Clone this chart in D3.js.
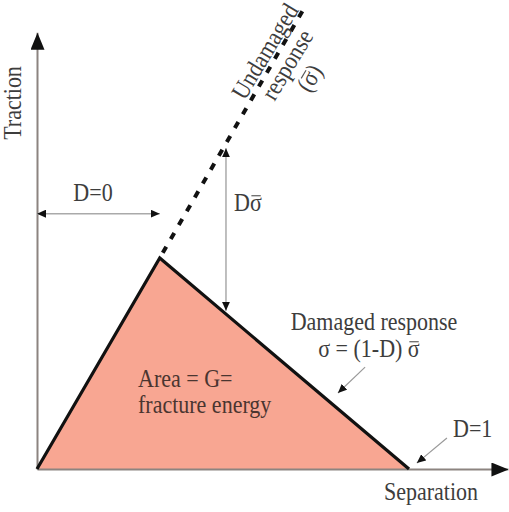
<!DOCTYPE html>
<html>
<head>
<meta charset="utf-8" />
<style>
  body { margin: 0; background: #fff; }
  svg text {
    font-family: "Liberation Serif", "Times New Roman", serif;
    font-size: 22px;
    fill: #3d3d3d;
  }
</style>
</head>
<body>
<svg width="509" height="512"></svg>
<script src="https://d3js.org/d3.v7.min.js"></script>
<script>
  // traction-separation law, normalised (peak traction = 1, final separation = 1)
  var separation = [0, 0.33, 1.0];
  var traction = [0, 1, 0];

  // undamaged (elastic) response carried on past the peak
  var undamagedSep = [0.33, 0.72];
  var undamagedTrac = [1, 2.19];

  // D*sigma gap shown between the two responses
  var gapSep = 0.508;
  var gapTrac = [1.52, 0.75];

  // D=0 span, from the axis to the peak separation
  var d0Sep = [0, 0.33];
  var d0Trac = 1.21;

  // axis extents
  var sepMax = 1.266;
  var tracMax = 2.07;

  // pointer arrows: [fromSep, fromTrac, toSep, toTrac]
  var pointers = [
    [0.882, 0.483, 0.809, 0.36],
    [1.102, 0.147, 1.021, 0.028]
  ];

  var svg = d3.select("svg");

  var x = d3.scaleLinear().domain([0, 1]).range([37, 409]);
  var y = d3.scaleLinear().domain([0, 1]).range([469, 258]);

  var defs = svg.append("defs");
  defs.append("marker")
    .attr("id", "bigArrow")
    .attr("viewBox", "0 0 17 14")
    .attr("refX", 17).attr("refY", 7)
    .attr("markerWidth", 17).attr("markerHeight", 14)
    .attr("markerUnits", "userSpaceOnUse")
    .attr("orient", "auto")
    .append("path").attr("d", "M0,0L17,7L0,14Z").attr("fill", "#111");
  defs.append("marker")
    .attr("id", "smallArrow")
    .attr("viewBox", "0 0 9 8")
    .attr("refX", 9).attr("refY", 4)
    .attr("markerWidth", 9).attr("markerHeight", 8)
    .attr("markerUnits", "userSpaceOnUse")
    .attr("orient", "auto-start-reverse")
    .append("path").attr("d", "M0,0L9,4L0,8Z").attr("fill", "#111");

  var pts = separation.map(function (s, i) { return [s, traction[i]]; });
  var line = d3.line()
    .x(function (d) { return x(d[0]); })
    .y(function (d) { return y(d[1]); });

  // fracture energy area
  svg.append("path")
    .datum(pts)
    .attr("d", line)
    .attr("fill", "#f8a692")
    .attr("stroke", "none");

  // axes (no ticks, just the arrowed lines)
  var xAxis = d3.axisBottom(d3.scaleLinear().domain([0, sepMax]).range([x(0), x(sepMax)]))
    .tickValues([]).tickSizeOuter(0);
  var yAxis = d3.axisLeft(d3.scaleLinear().domain([0, tracMax]).range([y(0), y(tracMax)]))
    .tickValues([]).tickSizeOuter(0);

  var gx = svg.append("g").attr("transform", "translate(0," + y(0) + ")").call(xAxis);
  gx.select(".domain").attr("stroke", "#8c8480").attr("stroke-width", 2)
    .attr("marker-end", "url(#bigArrow)");
  var gy = svg.append("g").attr("transform", "translate(" + x(0) + ",0)").call(yAxis);
  gy.select(".domain").attr("stroke", "#8c8480").attr("stroke-width", 2)
    .attr("marker-end", "url(#bigArrow)");

  // loading + softening edges
  svg.append("path")
    .datum(pts)
    .attr("d", line)
    .attr("fill", "none")
    .attr("stroke", "#111")
    .attr("stroke-width", 3.2)
    .attr("stroke-linejoin", "miter");

  // undamaged response, dashed
  svg.append("path")
    .datum(undamagedSep.map(function (s, i) { return [s, undamagedTrac[i]]; }))
    .attr("d", line)
    .attr("fill", "none")
    .attr("stroke", "#111")
    .attr("stroke-width", 4)
    .attr("stroke-dasharray", "7 9")
    .attr("stroke-dashoffset", -6);

  // D=0 double arrow
  svg.append("line")
    .attr("x1", x(d0Sep[0])).attr("x2", x(d0Sep[1]))
    .attr("y1", y(d0Trac)).attr("y2", y(d0Trac))
    .attr("stroke", "#aaa").attr("stroke-width", 1.5)
    .attr("marker-start", "url(#smallArrow)")
    .attr("marker-end", "url(#smallArrow)");

  // D sigma double arrow
  svg.append("line")
    .attr("x1", x(gapSep)).attr("x2", x(gapSep))
    .attr("y1", y(gapTrac[0])).attr("y2", y(gapTrac[1]))
    .attr("stroke", "#aaa").attr("stroke-width", 1.5)
    .attr("marker-start", "url(#smallArrow)")
    .attr("marker-end", "url(#smallArrow)");

  // pointer arrows
  svg.selectAll(".pointer")
    .data(pointers)
    .enter()
    .append("line")
    .attr("class", "pointer")
    .attr("x1", function (d) { return x(d[0]); })
    .attr("y1", function (d) { return y(d[1]); })
    .attr("x2", function (d) { return x(d[2]); })
    .attr("y2", function (d) { return y(d[3]); })
    .attr("stroke", "#999").attr("stroke-width", 1.2)
    .attr("marker-end", "url(#smallArrow)");

  // text helper: the source lettering is a bit taller than Times, so stretch vertically.
  // bars = indices of characters (sigma) that get an overbar
  function label(parent, tx, ty, str, anchor, bars, color) {
    var g = parent.append("g")
      .attr("transform", "translate(" + tx + "," + ty + ") scale(1,1.13)");
    var t = g.append("text")
      .attr("x", 0).attr("y", 0)
      .attr("text-anchor", anchor || "start")
      .text(str);
    if (color) t.style("fill", color);
    (bars || []).forEach(function (i) {
      var r = t.node().getExtentOfChar(i);
      g.append("line")
        .attr("x1", r.x + 1.5).attr("x2", r.x + r.width - 1)
        .attr("y1", -13.5).attr("y2", -13.5)
        .attr("stroke", "#555").attr("stroke-width", 1);
    });
    return g;
  }

  var rot = svg.append("g").attr("transform", "translate(21,103) rotate(-90)");
  label(rot, 0, 0, "Traction", "middle");

  label(svg, 478, 500, "Separation", "end");
  label(svg, 93, 201, "D=0", "middle");
  label(svg, 234, 211, "D\u03c3", "start", [1]);

  var und = svg.append("g").attr("transform", "translate(266,52) rotate(-59)");
  label(und, 0, 7, "Undamaged", "middle");
  label(und, 0, 33, "response", "middle");
  label(und, 0, 59, "(\u03c3)", "middle", [1]);

  label(svg, 374, 330, "Damaged response", "middle");
  label(svg, 369, 357, "\u03c3 = (1-D) \u03c3", "middle", [10]);

  label(svg, 138, 387, "Area = G=", "start", [], "#4a3530");
  label(svg, 138, 413, "fracture energy", "start", [], "#4a3530");

  label(svg, 453, 437, "D=1");
</script>
</body>
</html>
